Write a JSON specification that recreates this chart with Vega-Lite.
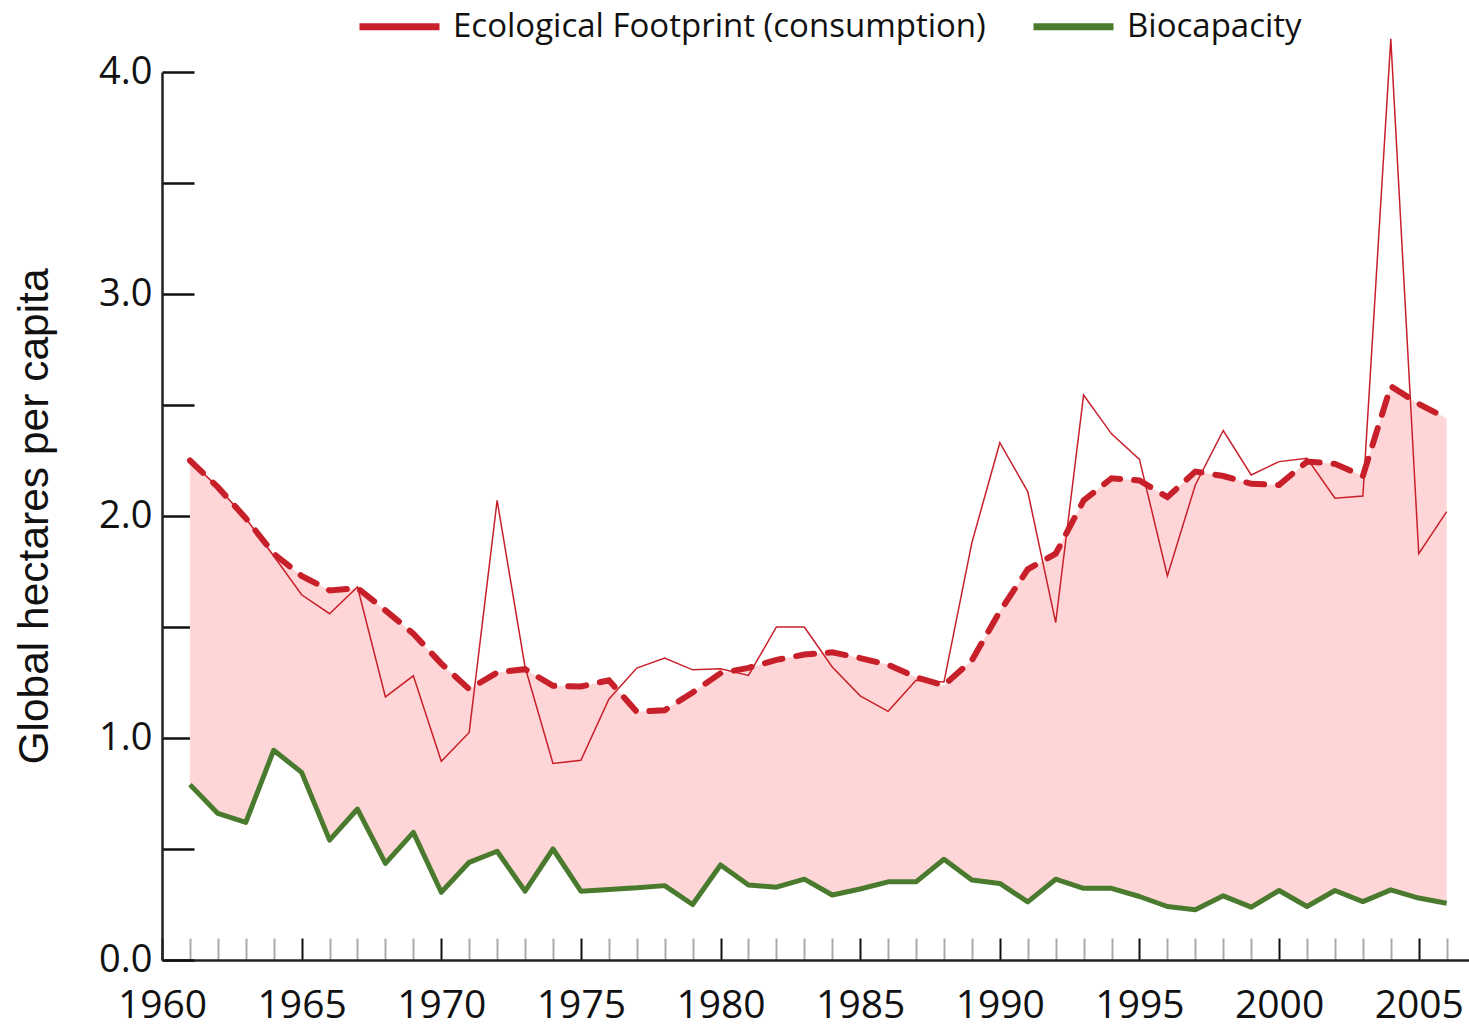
{
  "$schema": "https://vega.github.io/schema/vega-lite/v6.json",
  "width": 1307,
  "height": 888,
  "autosize": {"type": "none"},
  "padding": {"left": 162, "top": 72, "right": 0, "bottom": 67},
  "background": "white",
  "config": {"view": {"stroke": null}, "axis": {"grid": false}},
  "data": {"values": [
    {"year": 1961, "fp": 2.25, "fps": 2.25, "bio": 0.79},
    {"year": 1962, "fp": 2.13, "fps": 2.13, "bio": 0.66},
    {"year": 1963, "fp": 1.99, "fps": 1.99, "bio": 0.62},
    {"year": 1964, "fp": 1.82, "fps": 1.83, "bio": 0.945},
    {"year": 1965, "fp": 1.645, "fps": 1.73, "bio": 0.845},
    {"year": 1966, "fp": 1.56, "fps": 1.665, "bio": 0.54},
    {"year": 1967, "fp": 1.68, "fps": 1.675, "bio": 0.68},
    {"year": 1968, "fp": 1.185, "fps": 1.575, "bio": 0.435},
    {"year": 1969, "fp": 1.28, "fps": 1.47, "bio": 0.575},
    {"year": 1970, "fp": 0.895, "fps": 1.335, "bio": 0.305},
    {"year": 1971, "fp": 1.025, "fps": 1.22, "bio": 0.44},
    {"year": 1972, "fp": 2.07, "fps": 1.295, "bio": 0.49},
    {"year": 1973, "fp": 1.32, "fps": 1.31, "bio": 0.31},
    {"year": 1974, "fp": 0.885, "fps": 1.235, "bio": 0.5},
    {"year": 1975, "fp": 0.9, "fps": 1.232, "bio": 0.31},
    {"year": 1976, "fp": 1.175, "fps": 1.26, "bio": 0.318},
    {"year": 1977, "fp": 1.315, "fps": 1.118, "bio": 0.325},
    {"year": 1978, "fp": 1.36, "fps": 1.125, "bio": 0.335},
    {"year": 1979, "fp": 1.307, "fps": 1.205, "bio": 0.25},
    {"year": 1980, "fp": 1.312, "fps": 1.292, "bio": 0.428},
    {"year": 1981, "fp": 1.282, "fps": 1.316, "bio": 0.338},
    {"year": 1982, "fp": 1.5, "fps": 1.352, "bio": 0.328},
    {"year": 1983, "fp": 1.5, "fps": 1.376, "bio": 0.364},
    {"year": 1984, "fp": 1.32, "fps": 1.386, "bio": 0.293},
    {"year": 1985, "fp": 1.19, "fps": 1.36, "bio": 0.32},
    {"year": 1986, "fp": 1.12, "fps": 1.33, "bio": 0.352},
    {"year": 1987, "fp": 1.26, "fps": 1.274, "bio": 0.352},
    {"year": 1988, "fp": 1.252, "fps": 1.237, "bio": 0.454},
    {"year": 1989, "fp": 1.88, "fps": 1.35, "bio": 0.36},
    {"year": 1990, "fp": 2.33, "fps": 1.57, "bio": 0.345},
    {"year": 1991, "fp": 2.11, "fps": 1.76, "bio": 0.262},
    {"year": 1992, "fp": 1.52, "fps": 1.83, "bio": 0.364},
    {"year": 1993, "fp": 2.545, "fps": 2.07, "bio": 0.323},
    {"year": 1994, "fp": 2.37, "fps": 2.17, "bio": 0.323},
    {"year": 1995, "fp": 2.255, "fps": 2.16, "bio": 0.286},
    {"year": 1996, "fp": 1.73, "fps": 2.085, "bio": 0.241},
    {"year": 1997, "fp": 2.14, "fps": 2.2, "bio": 0.226},
    {"year": 1998, "fp": 2.385, "fps": 2.18, "bio": 0.289},
    {"year": 1999, "fp": 2.185, "fps": 2.145, "bio": 0.238},
    {"year": 2000, "fp": 2.245, "fps": 2.14, "bio": 0.313},
    {"year": 2001, "fp": 2.26, "fps": 2.245, "bio": 0.241},
    {"year": 2002, "fp": 2.08, "fps": 2.235, "bio": 0.313},
    {"year": 2003, "fp": 2.09, "fps": 2.18, "bio": 0.263},
    {"year": 2004, "fp": 4.15, "fps": 2.585, "bio": 0.316},
    {"year": 2005, "fp": 1.83, "fps": 2.505, "bio": 0.279},
    {"year": 2006, "fp": 2.02, "fps": 2.44, "bio": 0.256}
  ]},
  "encoding": {
    "x": {
      "field": "year",
      "type": "quantitative",
      "scale": {"domain": [1960, 2006.8], "nice": false, "zero": false},
      "axis": {
        "title": null,
        "values": [1960,1961,1962,1963,1964,1965,1966,1967,1968,1969,1970,1971,1972,1973,1974,1975,1976,1977,1978,1979,1980,1981,1982,1983,1984,1985,1986,1987,1988,1989,1990,1991,1992,1993,1994,1995,1996,1997,1998,1999,2000,2001,2002,2003,2004,2005,2006],
        "format": "d",
        "labelExpr": "datum.value % 5 === 0 ? datum.label : ''",
        "labelOverlap": false,
        "labelFlush": false,
        "labelFont": "Open Sans",
        "labelFontSize": 39,
        "labelColor": "#111111",
        "labelPadding": 48,
        "domainColor": "#222222",
        "domainWidth": 2.5,
        "tickSize": -22,
        "tickWidth": 2,
        "tickColor": {"condition": {"test": "datum.value % 5 === 0", "value": "#111111"}, "value": "#aaaaaa"}
      }
    }
  },
  "layer": [
    {
      "mark": {"type": "area", "color": "#FFD6D7", "opacity": 1},
      "encoding": {
        "y": {
          "field": "fps",
          "type": "quantitative",
          "scale": {"domain": [0, 4], "nice": false},
          "axis": {
            "title": "Global hectares per capita",
            "titleFont": "Liberation Sans",
            "titleFontSize": 42.5,
            "titleFontWeight": "normal",
            "titleColor": "#111111",
            "titlePadding": 42,
            "values": [0, 0.5, 1, 1.5, 2, 2.5, 3, 3.5, 4],
            "labelExpr": "datum.value % 1 === 0 ? format(datum.value, '.1f') : ''",
            "labelFont": "Open Sans",
            "labelFontSize": 38,
            "labelColor": "#111111",
            "labelPadding": 42,
            "labelOverlap": false,
            "labelFlush": false,
            "domainColor": "#222222",
            "domainWidth": 2.5,
            "tickSize": -32,
            "tickWidth": 2.5,
            "tickColor": "#111111"
          }
        },
        "y2": {"field": "bio"}
      }
    },
    {
      "mark": {"type": "line", "strokeWidth": 1.5},
      "encoding": {
        "y": {"field": "fp", "type": "quantitative"},
        "color": {
          "datum": "Ecological Footprint (consumption)",
          "type": "nominal",
          "scale": {"domain": ["Ecological Footprint (consumption)", "Biocapacity"], "range": ["#C8202A", "#4A7A2E"]},
          "legend": {
            "title": null,
            "orient": "none",
            "legendX": 194,
            "legendY": -89,
            "direction": "horizontal",
            "symbolType": "stroke",
            "symbolSize": 6400,
            "symbolStrokeWidth": 7,
            "labelFont": "Open Sans",
            "labelFontSize": 33,
            "labelColor": "#111111",
            "labelOffset": 10,
            "columnPadding": 33,
            "labelLimit": 1000
          }
        }
      }
    },
    {
      "mark": {"type": "line", "color": "#C8202A", "strokeWidth": 6, "strokeDash": [18, 14], "strokeCap": "round"},
      "encoding": {"y": {"field": "fps", "type": "quantitative"}}
    },
    {
      "mark": {"type": "line", "strokeWidth": 5, "strokeJoin": "round"},
      "encoding": {
        "y": {"field": "bio", "type": "quantitative"},
        "color": {"datum": "Biocapacity", "type": "nominal"}
      }
    }
  ]
}
